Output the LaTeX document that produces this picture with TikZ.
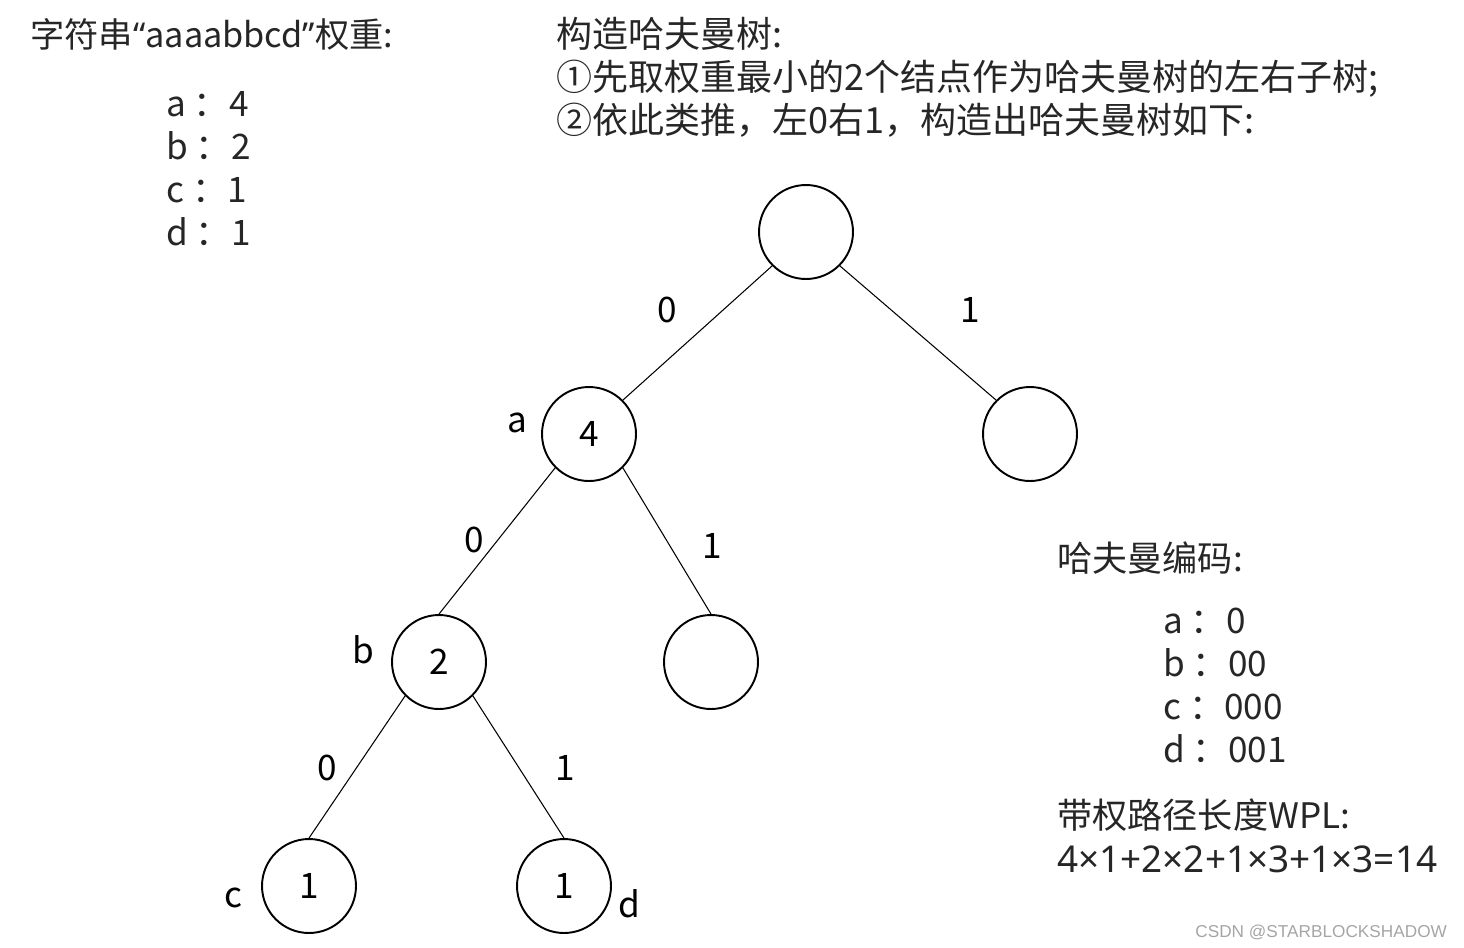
\documentclass[tikz,border=0pt]{standalone}
\usepackage{fontspec}
\setmainfont{Noto Sans CJK SC}
\newfontfamily\quotefont{Noto Sans}
\newfontfamily\markfont{Liberation Sans}
\usepackage{xcolor}
\definecolor{inkgray}{RGB}{38,38,38}
\definecolor{markgray}{RGB}{165,165,165}
\newcommand{\bigtext}{\fontsize{20}{24}\selectfont}

\begin{document}
\begin{tikzpicture}[x=0.02cm, y=-0.02cm,
    hnode/.style={circle, draw, line width=1.1pt, minimum size=1.88cm, inner sep=0pt, font=\bigtext},
    branch/.style={line width=0.6pt},
    bit/.style={inner sep=0pt, font=\bigtext},
    txt/.style={anchor=base west, inner sep=0pt, text=inkgray, font=\bigtext}]
\useasboundingbox (0,0) rectangle (1464,947);

% Weights
\node[txt, font=\fontsize{19.5}{24}\selectfont] (weights) at (30,47) {字符串{\quotefont “}aaaabbcd{\quotefont ”}权重:};
\node[txt] (wa) at (166,116) {a ：4};
\node[txt] (wb) at (166,159) {b ：2};
\node[txt] (wc) at (166,202) {c ：1};
\node[txt] (wd) at (166,245) {d ：1};

% Steps
\node[txt, font=\fontsize{20.5}{24}\selectfont] (step0) at (556,47) {构造哈夫曼树:};
\node[txt, font=\fontsize{20.5}{24}\selectfont] (step1) at (556,90) {①先取权重最小的2个结点作为哈夫曼树的左右子树;};
\node[txt, font=\fontsize{20.5}{24}\selectfont] (step2) at (556,133) {②依此类推，左0右1，构造出哈夫曼树如下:};

% Tree
\node[hnode] (root) at (806,232) {};
\node[hnode] (n4) at (589,434) {4};
\node[hnode] (r1) at (1030,434) {};
\node[hnode] (n2) at (439,662) {2};
\node[hnode] (r2) at (711,662) {};
\node[hnode] (nc) at (309,886) {1};
\node[hnode] (nd) at (564,886) {1};

\draw[branch] (root.225) -- (n4.45);
\draw[branch] (root.-45) -- (r1.135);
\draw[branch] (n4.225) -- (n2.north);
\draw[branch] (n4.-45) -- (r2.north);
\draw[branch] (n2.225) -- (nc.north);
\draw[branch] (n2.-45) -- (nd.north);

% Bits
\node[bit] (bit1) at (667,310) {0};
\node[bit] (bit2) at (970,310) {1};
\node[bit] (bit3) at (474,540) {0};
\node[bit] (bit4) at (712,546) {1};
\node[bit] (bit5) at (327,768) {0};
\node[bit] (bit6) at (565,768) {1};

% Leaf names
\node[bit, anchor=base] (la) at (517,432) {a};
\node[bit, anchor=base] (lb) at (363,663) {b};
\node[bit, anchor=base] (lc) at (233,907) {c};
\node[bit, anchor=base] (ld) at (629,917) {d};

% Codes
\node[txt] (codes) at (1057,571) {哈夫曼编码:};
\node[txt] (ca) at (1163,633) {a ：0};
\node[txt] (cb) at (1163,676) {b ：00};
\node[txt] (cc) at (1163,719) {c ：000};
\node[txt] (cd) at (1163,762) {d ：001};

% WPL
\node[txt] (wpl) at (1057,828) {带权路径长度WPL:};
\node[txt, font=\quotefont\fontsize{21}{24}\selectfont] (sum) at (1057,872) {4×1+2×2+1×3+1×3=14};

\node[anchor=base west, inner sep=0pt, text=markgray, font=\markfont\fontsize{9.8}{12}\selectfont] (mark) at (1195,937) {CSDN @STARBLOCKSHADOW};
\end{tikzpicture}
\end{document}
